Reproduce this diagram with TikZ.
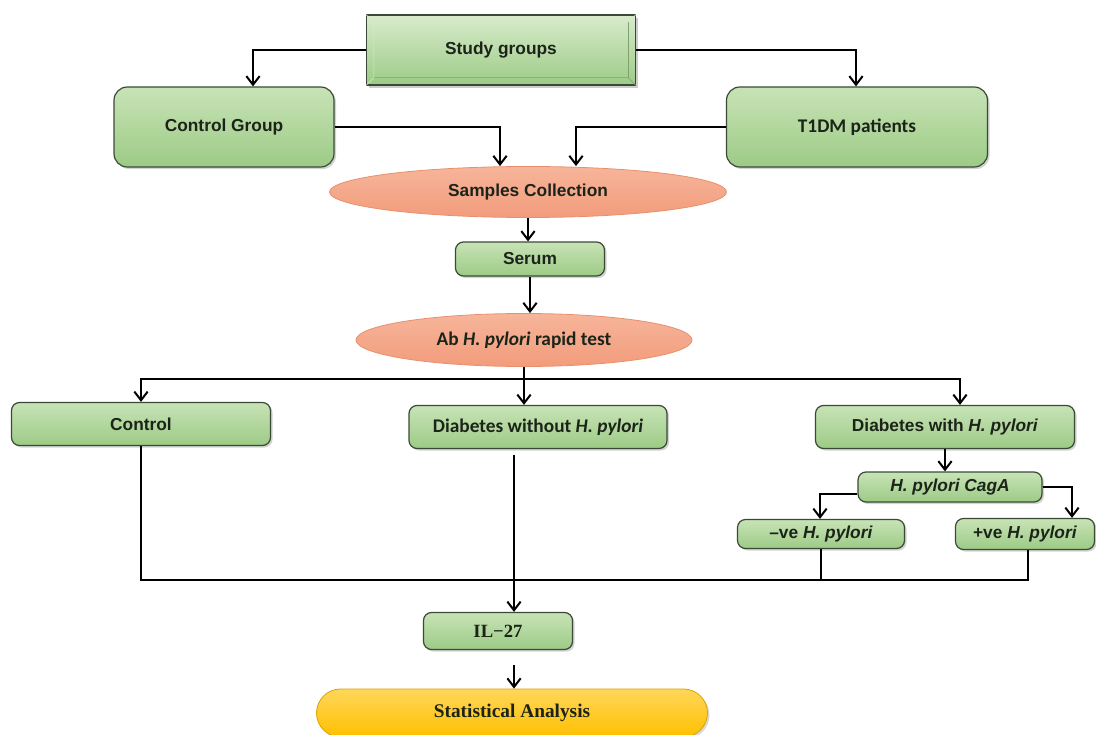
\documentclass[tikz,border=0pt]{standalone}
\usepackage{fontspec}
\setmainfont{Liberation Sans}
\newfontfamily\calfont{Carlito}
\newfontfamily\serfont{Liberation Serif}
\usetikzlibrary{arrows.meta,shadows,shapes.geometric,calc}
\definecolor{gtop}{HTML}{C8E3B6}
\definecolor{gbot}{HTML}{9CCB86}
\definecolor{gedge}{HTML}{3A4A36}
\definecolor{stop}{HTML}{F7B59A}
\definecolor{sbot}{HTML}{F29C7C}
\definecolor{sedge}{HTML}{E8906E}
\definecolor{gold}{HTML}{FFC000}
\definecolor{goldtop}{HTML}{FFD65A}
\definecolor{txt}{HTML}{1C241A}
\tikzset{
  gbox/.style={draw=gedge, line width=0.9pt, rounded corners=6pt, top color=gtop, bottom color=gbot,
     drop shadow={shadow xshift=1.5pt, shadow yshift=-1.5pt, opacity=0.35},
     text=txt, font=\fontsize{13}{15}\selectfont\bfseries, inner sep=0pt, align=center},
  salm/.style={ellipse, draw=sedge, line width=0.6pt, top color=stop, bottom color=sbot,
     text=txt, font=\fontsize{13}{15}\selectfont\bfseries, inner sep=0pt},
  arr/.style={-{Straight Barb[length=6.5pt,width=10pt,line width=1.5pt]}, line width=1.5pt},
  ln/.style={line width=1.5pt},
}
\begin{document}
\begin{tikzpicture}[x=0.75pt,y=-0.75pt]
\useasboundingbox (0,0) rectangle (1096,735);
% Study groups (bevel box)
\node[draw=gedge, line width=0.9pt, top color=gtop!70!white, bottom color=gbot,
      drop shadow={shadow xshift=2pt, shadow yshift=-2pt, opacity=0.4},
      minimum width=201.75pt, minimum height=52.5pt, inner sep=0pt,
      text=txt, font=\fontsize{13}{15}\selectfont\bfseries] (sg) at (501,50) {Study groups};
\draw[white!60!gbot, line width=0.5pt] (sg.north west) -- ++(8,8) -- ($(sg.north east)+(-8,8)$) -- (sg.north east);
\draw[white!60!gbot, line width=0.5pt] ($(sg.north west)+(8,8)$) -- ($(sg.south west)+(8,-8)$) -- (sg.south west);
\draw[gbot!80!black, line width=0.5pt] ($(sg.south west)+(8,-8)$) -- ($(sg.south east)+(-8,-8)$) -- (sg.south east);
\draw[gbot!80!black, line width=0.5pt] ($(sg.south east)+(-8,-8)$) -- ($(sg.north east)+(-8,8)$);

\node[gbox, rounded corners=10pt, minimum width=165pt, minimum height=60pt] (cg) at (224,127) {Control Group};
\node[gbox, rounded corners=10pt, minimum width=195.75pt, minimum height=60pt,
      font=\calfont\fontsize{14.5}{16}\selectfont\bfseries] (t1) at (857,127) {T1DM patients};

\node[salm, minimum width=297.75pt, minimum height=38.25pt] (sc) at (528,192) {Samples Collection};
\node[gbox, minimum width=111.75pt, minimum height=25.5pt] (se) at (530,259) {Serum};
\node[salm, minimum width=252pt, minimum height=39.75pt,
      font=\calfont\fontsize{14.5}{16}\selectfont\bfseries] (ab) at (524,340) {Ab \textit{H. pylori} rapid test};

\node[gbox, minimum width=194.25pt, minimum height=32.25pt] (ctl) at (141,424) {Control};
\node[gbox, minimum width=193.5pt, minimum height=32.25pt,
      font=\calfont\fontsize{14.5}{16}\selectfont\bfseries] (dwo) at (538,427) {Diabetes without \textit{H. pylori}};
\node[gbox, minimum width=194.25pt, minimum height=32.25pt] (dwi) at (945,427) {Diabetes with \textit{H. pylori}};
\node[gbox, minimum width=138pt, minimum height=22.5pt, font=\fontsize{13}{15}\selectfont\bfseries\itshape] (cag) at (950,487) {H. pylori CagA};
\node[gbox, minimum width=125.25pt, minimum height=21.75pt] (neg) at (821,534) {\textendash ve \textit{H. pylori}};
\node[gbox, minimum width=104.25pt, minimum height=23.25pt] (pos) at (1025,534) {+ve \textit{H. pylori}};

\node[gbox, minimum width=111.75pt, minimum height=27.75pt, font=\serfont\fontsize{14}{16}\selectfont\bfseries] (il) at (498,631) {IL\textminus 27};
\node[draw=gold!85!black, line width=0.6pt, rounded corners=18pt, top color=goldtop, bottom color=gold,
      drop shadow={shadow xshift=1.5pt, shadow yshift=-1.5pt, opacity=0.3},
      minimum width=293.25pt, minimum height=36pt, inner sep=0pt, text=txt,
      font=\serfont\fontsize{14.5}{16}\selectfont\bfseries] (st) at (512,713) {Statistical Analysis};

% connectors
\draw[arr] (sg.west) -| (cg.north -| 253,0);
\draw[arr] (sg.east) -| (t1.north -| 856,0);
\draw[arr] (cg.east) -| (sc.north -| 500,0);
\draw[arr] (t1.west) -| (sc.north -| 576,0);
\draw[arr] (sc.south) -- (se.north -| sc.south);
\draw[arr] (se.south) -- (ab.north -| se.south);
\draw[arr] (ab.south) -- (dwo.north -| ab.south);
\coordinate (jl) at (ab.south |- 0,379);
\draw[arr] (jl) -| (ctl.north);
\draw[arr] (jl) -| (dwi.north -| 960,0);
\draw[arr] (dwi.south) -- (cag.north -| dwi.south);
\draw[arr] (cag.west |- 0,494) -| (neg.north -| 820,0);
\draw[arr] (cag.east) -| (pos.north -| 1072,0);
\coordinate (pb) at (1028,580);
\draw[ln] (ctl.south) |- (pb) -- (pos.south -| pb);
\draw[ln] (neg.south) -- (neg.south |- pb);
\coordinate (dwout) at (514,455);
\draw[arr] (dwout) -- (il.north -| dwout);
\coordinate (ilout) at (514,665);
\draw[arr] (ilout) -- (st.north -| ilout);
\end{tikzpicture}
\end{document}
